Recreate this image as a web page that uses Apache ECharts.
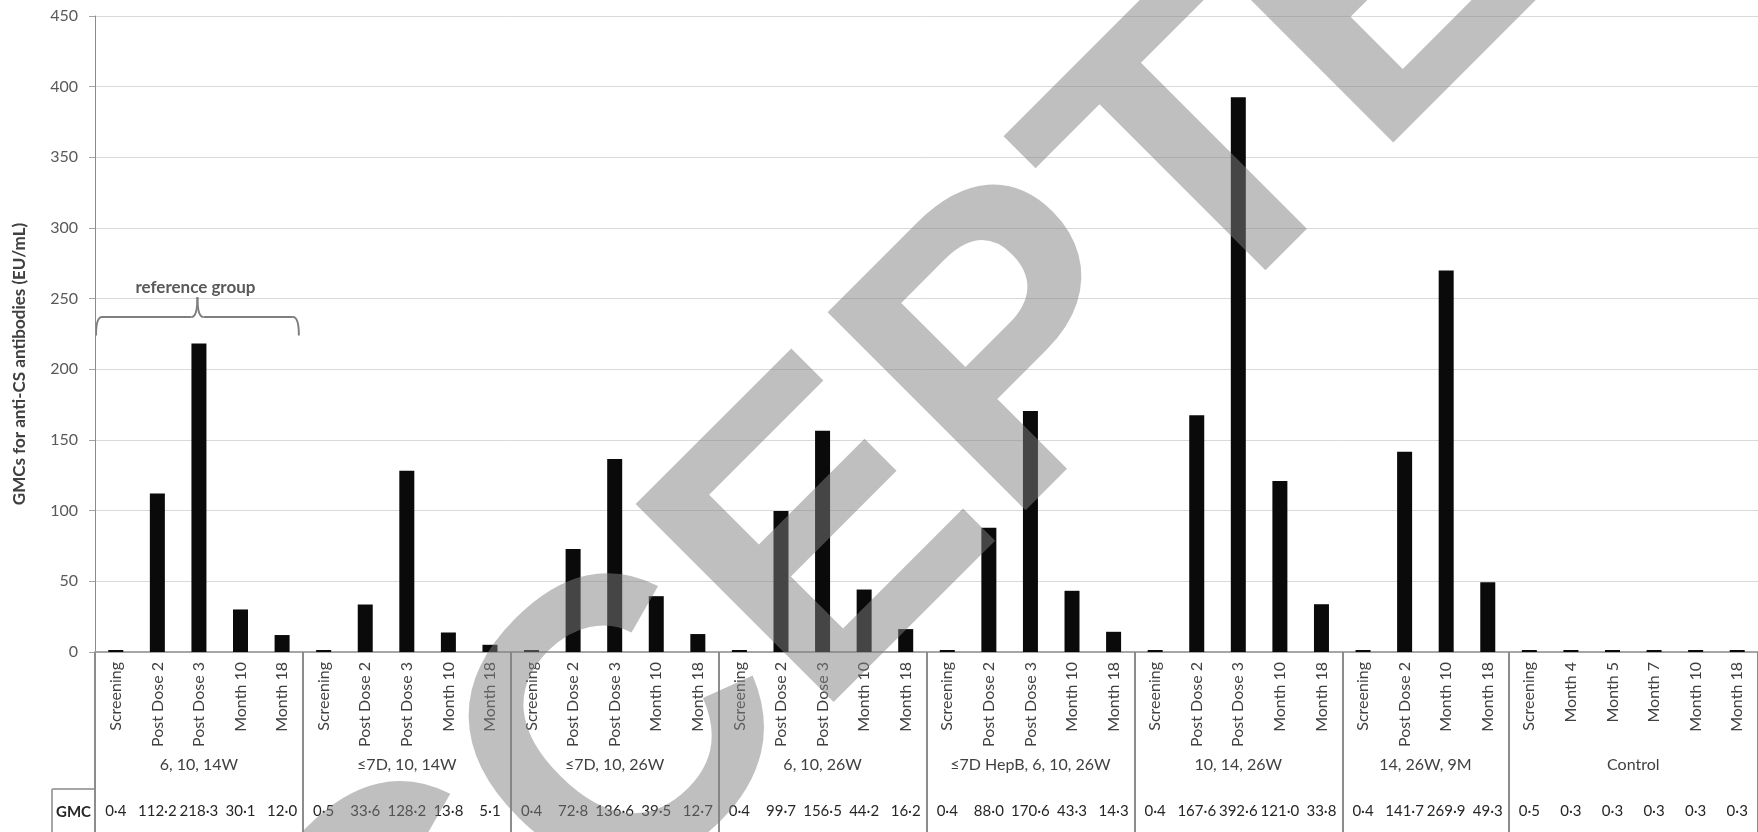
<!DOCTYPE html>
<html>
<head>
<meta charset="utf-8">
<script src="https://cdn.jsdelivr.net/npm/echarts@6/dist/echarts.min.js"></script>
<style>
  html, body { margin: 0; padding: 0; background: #fff; }
  #chart { width: 1758px; height: 832px; }
</style>
</head>
<body>
<div id="chart"></div>
<script>
// ---- data ----
const groupNames = ['6, 10, 14W', '≤7D, 10, 14W', '≤7D, 10, 26W', '6, 10, 26W',
  '≤7D HepB, 6, 10, 26W', '10, 14, 26W', '14, 26W, 9M', 'Control'];
const groupSizes = [5, 5, 5, 5, 5, 5, 4, 6];
const timepoints = [
  'Screening', 'Post Dose 2', 'Post Dose 3', 'Month 10', 'Month 18',
  'Screening', 'Post Dose 2', 'Post Dose 3', 'Month 10', 'Month 18',
  'Screening', 'Post Dose 2', 'Post Dose 3', 'Month 10', 'Month 18',
  'Screening', 'Post Dose 2', 'Post Dose 3', 'Month 10', 'Month 18',
  'Screening', 'Post Dose 2', 'Post Dose 3', 'Month 10', 'Month 18',
  'Screening', 'Post Dose 2', 'Post Dose 3', 'Month 10', 'Month 18',
  'Screening', 'Post Dose 2', 'Month 10', 'Month 18',
  'Screening', 'Month 4', 'Month 5', 'Month 7', 'Month 10', 'Month 18'
];
const gmcValues = [
  0.4, 112.2, 218.3, 30.1, 12.0,
  0.5, 33.6, 128.2, 13.8, 5.1,
  0.4, 72.8, 136.6, 39.5, 12.7,
  0.4, 99.7, 156.5, 44.2, 16.2,
  0.4, 88.0, 170.6, 43.3, 14.3,
  0.4, 167.6, 392.6, 121.0, 33.8,
  0.4, 141.7, 269.9, 49.3,
  0.5, 0.3, 0.3, 0.3, 0.3, 0.3
];
const yMin = 0, yMax = 450, yStep = 50;
const yTitle = 'GMCs for anti-CS antibodies (EU/mL)';
const rowHeader = 'GMC';
const braceText = 'reference group';
const braceRange = [0, 4];          // categories spanned by the brace
const braceLevels = [224, 237, 251]; // brace ends, bar, tip (value units)
const watermark = 'ACCEPTED';

// ---- layout ----
const FONT = 'Lato';
const GRID = { left: 95, right: 0, top: 16, bottom: 180 };

// group edges / centres in category units
const groupEdges = [0];
groupSizes.forEach(s => groupEdges.push(groupEdges[groupEdges.length - 1] + s));
const groupCenters = groupSizes.map((s, i) => groupEdges[i] + s / 2);
const gmcLabels = gmcValues.map(v => v.toFixed(1).replace('.', '·'));

const chart = echarts.init(document.getElementById('chart'), null, { renderer: 'canvas' });

const grid = Object.assign({ containLabel: false }, GRID);

const option = {
  animation: false,
  backgroundColor: '#fff',
  textStyle: { fontFamily: FONT },
  grid: [grid, Object.assign({}, grid), Object.assign({}, grid)],
  xAxis: [
    {
      gridIndex: 0,
      type: 'category',
      data: timepoints,
      axisLine: { lineStyle: { color: '#8c8c8c', width: 1 } },
      axisTick: { interval: 0, length: 90, lineStyle: { color: '#bfbfbf', width: 1 } },
      axisLabel: { interval: 0, rotate: 90, margin: 10, fontFamily: FONT, fontSize: 16, color: '#404040' }
    },
    {
      gridIndex: 1,
      type: 'value',
      min: 0,
      max: timepoints.length,
      axisLine: { show: false },
      splitLine: { show: false },
      axisTick: { show: true, customValues: groupEdges, length: 180, lineStyle: { color: '#8c8c8c', width: 2 } },
      axisLabel: {
        customValues: groupCenters,
        margin: 105,
        fontFamily: FONT, fontSize: 16, color: '#404040',
        formatter: v => {
          const i = groupCenters.findIndex(c => Math.abs(c - v) < 1e-6);
          return i >= 0 ? groupNames[i] : '';
        }
      }
    },
    {
      gridIndex: 2,
      type: 'category',
      data: gmcLabels,
      offset: 137,
      axisLine: { lineStyle: { color: '#a6a6a6', width: 2 } },
      axisTick: { interval: 0, length: 43, lineStyle: { color: '#a6a6a6', width: 1 } },
      axisLabel: { interval: 0, margin: 15, fontFamily: FONT, fontSize: 15, color: '#262626' }
    }
  ],
  yAxis: [
    {
      gridIndex: 0,
      type: 'value',
      min: yMin, max: yMax, interval: yStep,
      axisLine: { show: true, lineStyle: { color: '#8c8c8c', width: 1 } },
      axisTick: { show: true, length: 6, lineStyle: { color: '#a6a6a6' } },
      axisLabel: { margin: 17, fontFamily: FONT, fontSize: 16, color: '#595959' },
      splitLine: { lineStyle: { color: '#d9d9d9', width: 1 } }
    },
    { gridIndex: 1, type: 'value', show: false },
    { gridIndex: 2, type: 'value', show: false }
  ],
  series: [
    {
      type: 'bar',
      xAxisIndex: 0,
      yAxisIndex: 0,
      data: gmcValues,
      barWidth: 15,
      barMinHeight: 2,
      itemStyle: { color: '#0a0a0a' }
    }
  ]
};

chart.setOption(option);

// ---- annotations placed through the axes ----
const px = (c, v) => chart.convertToPixel({ xAxisIndex: 0, yAxisIndex: 0 }, [c, v]);
const catW = px(1, 0)[0] - px(0, 0)[0];
const bx0 = px(braceRange[0], 0)[0] - catW / 2 + 1;
const bx1 = px(braceRange[1], 0)[0] + catW / 2 - 4;
const bm = (bx0 + bx1) / 2;
const yEnd = px(0, braceLevels[0])[1];
const yBar = px(0, braceLevels[1])[1];
const yTip = px(0, braceLevels[2])[1];
const r = 6;
const braceStyle = { stroke: '#7f7f7f', lineWidth: 2, fill: null };

const axisX = px(0, 0)[0] - catW / 2;
const rowTop = px(0, 0)[1] + 137;

chart.setOption({
  graphic: [
    // y axis title
    {
      type: 'text', x: 20, y: 364, rotation: Math.PI / 2,
      style: { text: yTitle, font: 'bold 17px ' + FONT, fill: '#404040', align: 'center', verticalAlign: 'middle' }
    },
    // brace over the reference group
    { type: 'bezierCurve', shape: { x1: bx0, y1: yEnd, cpx1: bx0, cpy1: yBar, x2: bx0 + r, y2: yBar }, style: braceStyle },
    { type: 'line', shape: { x1: bx0 + r, y1: yBar, x2: bm - r, y2: yBar }, style: braceStyle },
    { type: 'bezierCurve', shape: { x1: bm - r, y1: yBar, cpx1: bm, cpy1: yBar, x2: bm, y2: yTip }, style: braceStyle },
    { type: 'bezierCurve', shape: { x1: bm, y1: yTip, cpx1: bm, cpy1: yBar, x2: bm + r, y2: yBar }, style: braceStyle },
    { type: 'line', shape: { x1: bm + r, y1: yBar, x2: bx1 - r, y2: yBar }, style: braceStyle },
    { type: 'bezierCurve', shape: { x1: bx1 - r, y1: yBar, cpx1: bx1, cpy1: yBar, x2: bx1, y2: yEnd }, style: braceStyle },
    {
      type: 'text', x: bm - 2, y: yTip - 10,
      style: { text: braceText, font: 'bold 17px ' + FONT, fill: '#595959', align: 'center', verticalAlign: 'middle' }
    },
    // row header cell of the value table
    { type: 'line', shape: { x1: 52, y1: rowTop, x2: axisX, y2: rowTop }, style: { stroke: '#a6a6a6', lineWidth: 2 } },
    { type: 'line', shape: { x1: 52, y1: rowTop, x2: 52, y2: 832 }, style: { stroke: '#a6a6a6', lineWidth: 2 } },
    {
      type: 'text', x: (52 + axisX) / 2, y: rowTop + 23,
      style: { text: rowHeader, font: 'bold 15px ' + FONT, fill: '#262626', align: 'center', verticalAlign: 'middle' }
    },
    // diagonal watermark
    {
      type: 'text', x: 903, y: 474, rotation: Math.PI / 4, z: 100,
      style: { text: watermark, font: 'bold 407px "Liberation Sans"', fill: 'rgba(128,128,128,0.5)', align: 'center', verticalAlign: 'middle' }
    }
  ]
});
</script>
</body>
</html>
